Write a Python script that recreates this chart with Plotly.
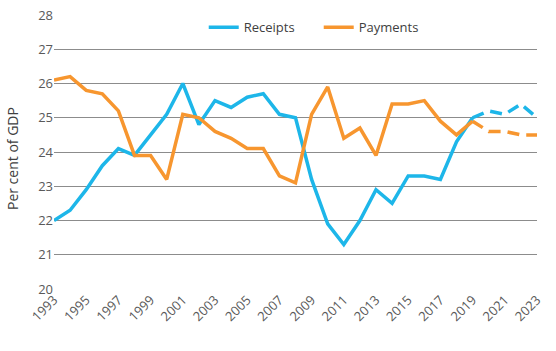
import plotly.graph_objects as go

years = list(range(1993, 2024))
receipts = [22.0, 22.3, 22.9, 23.6, 24.1, 23.9, 24.5, 25.1, 26.0, 24.8,
            25.5, 25.3, 25.6, 25.7, 25.1, 25.0, 23.2, 21.9, 21.3, 22.0,
            22.9, 22.5, 23.3, 23.3, 23.2, 24.3, 25.0, 25.2, 25.1, 25.4, 25.0]
payments = [26.1, 26.2, 25.8, 25.7, 25.2, 23.9, 23.9, 23.2, 25.1, 25.0,
            24.6, 24.4, 24.1, 24.1, 23.3, 23.1, 25.1, 25.9, 24.4, 24.7,
            23.9, 25.4, 25.4, 25.5, 24.9, 24.5, 24.9, 24.6, 24.6, 24.5, 24.5]
split_year = 2019
tick_years = list(range(1993, 2024, 2))

blue = "#1DB6E9"
orange = "#F7962F"
font_family = "Open Sans, Lato, sans-serif"

idx = years.index(split_year)
fig = go.Figure()
for name, vals, col in [("Receipts", receipts, blue), ("Payments", payments, orange)]:
    fig.add_trace(go.Scatter(x=years[:idx + 1], y=vals[:idx + 1], mode="lines", name=name,
                             line=dict(color=col, width=3.5)))
for name, vals, col in [("Receipts", receipts, blue), ("Payments", payments, orange)]:
    fig.add_trace(go.Scatter(x=years[idx:], y=vals[idx:], mode="lines", name=name,
                             showlegend=False, line=dict(color=col, width=3.5, dash="12px,7px")))

fig.update_layout(
    width=556, height=351,
    margin=dict(l=54, r=19, t=13, b=62),
    paper_bgcolor="white", plot_bgcolor="white",
    font=dict(family=font_family, size=13, color="#595959"),
    legend=dict(orientation="h", x=0.31, xanchor="left", y=0.955, yanchor="middle",
                font=dict(size=13, color="#404040"), entrywidth=70, bgcolor="rgba(0,0,0,0)"),
    showlegend=True,
    annotations=[dict(text="Per cent of GDP", textangle=-90, xref="paper", yref="paper",
                      x=-0.086, y=0.476, xanchor="center", yanchor="middle", showarrow=False,
                      font=dict(size=14, color="#404040", family=font_family))],
)
fig.update_xaxes(range=[1993, 2023], tickvals=tick_years, ticktext=[str(y) for y in tick_years],
                 tickangle=-45, showgrid=False, zeroline=False, showline=False, automargin=False,
                 ticks="", tickfont=dict(size=13, color="#595959"))
fig.update_yaxes(range=[20, 28], dtick=1, showgrid=True, gridcolor="#8C8C8C", gridwidth=1,
                 zeroline=False, showline=False, ticks="", automargin=False,
                 tickfont=dict(size=13, color="#595959"))

fig.write_html("out.html")
